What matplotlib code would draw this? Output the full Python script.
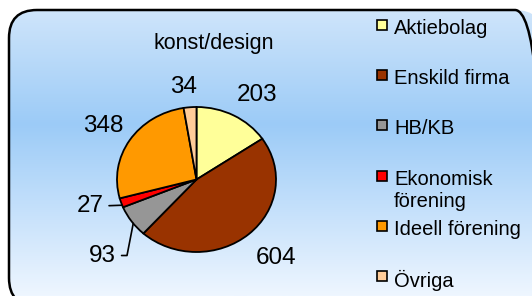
import numpy as np
import matplotlib
matplotlib.use("Agg")
import matplotlib.pyplot as plt
from matplotlib.patches import FancyBboxPatch, Rectangle
from matplotlib.colors import LinearSegmentedColormap
from matplotlib.transforms import IdentityTransform

# ---- data ----
categories = ["Aktiebolag", "Enskild firma", "HB/KB", "Ekonomisk\nförening",
              "Ideell förening", "Övriga"]
values = [203, 604, 93, 27, 348, 34]
colors = ["#FFFF99", "#993300", "#969696", "#FF0000", "#FF9900", "#FFCC99"]
title = "konst/design"

# ---- layout (label placement relative to wedge mid-angle) ----
label_angle_offset = [-5.3, 1.4, 6.3, -3.3, 0.9, 2.6]
label_dist = [1.40, 1.475, 1.58, 1.39, 1.385, 1.293]
leader = [False, False, True, True, False, False]

FONT = "Liberation Sans"
W, H = 532, 296
fig = plt.figure(figsize=(W / 100, H / 100), dpi=100)
fig.patch.set_facecolor("white")

# background panel (display pixel coordinates, y up)
bg = fig.add_axes([0, 0, 1, 1], zorder=0)
bg.axis("off")
cmap = LinearSegmentedColormap.from_list(
    "bg", [(0, "#d3e7fb"), (0.42, "#9ccbf7"), (1.0, "#eef6ff")])
grad = np.linspace(0, 1, 256).reshape(-1, 1)
box = FancyBboxPatch((9, H - 306), 534, 296, boxstyle="round,pad=0,rounding_size=28",
                     facecolor="none", edgecolor="black", linewidth=1.8,
                     transform=IdentityTransform(), zorder=3)
im = bg.imshow(grad, cmap=cmap, extent=(0, 1, 0, 1), aspect="auto",
               transform=bg.transAxes, zorder=1, origin="upper")
bg.add_patch(box)
im.set_clip_path(box)
bg.set_xlim(0, 1)
bg.set_ylim(0, 1)

# text overlay in pixel coords with y down
ov = fig.add_axes([0, 0, 1, 1], zorder=4)
ov.set_xlim(0, W)
ov.set_ylim(H, 0)
ov.axis("off")

ov.text(214, 44, title, ha="center", va="center", fontsize=15.5,
        family=FONT, color="black")

# legend (manual)
for i, (cat, col) in enumerate(zip(categories, colors)):
    y = 25 + 50.2 * i
    ov.add_patch(Rectangle((377, y - 5), 10, 10, facecolor=col,
                           edgecolor="black", linewidth=1.2))
    ov.text(394, y - 6, cat, ha="left", va="top", fontsize=14.5,
            family=FONT, color="black", linespacing=1.25)

# pie (slightly elliptical, like the original)
px0, px1, py0, py1 = 117, 276, 107, 252
ax = fig.add_axes([px0 / W, (H - py1) / H, (px1 - px0) / W, (py1 - py0) / H], zorder=2)
wedges, _ = ax.pie(values, colors=colors, startangle=90, counterclock=False,
                   wedgeprops=dict(edgecolor="black", linewidth=1.3))
ax.set_aspect("auto")
ax.set_xlim(-1, 1)
ax.set_ylim(-1, 1)
ax.patch.set_alpha(0)
ax.axis("off")

for w, v, off, d, ld in zip(wedges, values, label_angle_offset, label_dist, leader):
    mid = 0.5 * (w.theta1 + w.theta2)
    ang = np.deg2rad(mid + off)
    tx, ty = d * np.cos(ang), d * np.sin(ang)
    if ld:
        m = np.deg2rad(mid + 2)
        ex, ey = np.cos(m), np.sin(m)
        cs = "arc3,rad=0" if v == 27 else "angle,angleA=0,angleB=79,rad=0"
        ax.annotate(str(v), xy=(ex, ey), xytext=(tx, ty), ha="center", va="center",
                    fontsize=17.5, family=FONT, annotation_clip=False,
                    arrowprops=dict(arrowstyle="-", color="black", lw=1.2,
                                    connectionstyle=cs, shrinkA=2, shrinkB=0))
    else:
        ax.text(tx, ty, str(v), ha="center", va="center", fontsize=17.5,
                family=FONT, clip_on=False)

fig.savefig("out.png", dpi=100)
